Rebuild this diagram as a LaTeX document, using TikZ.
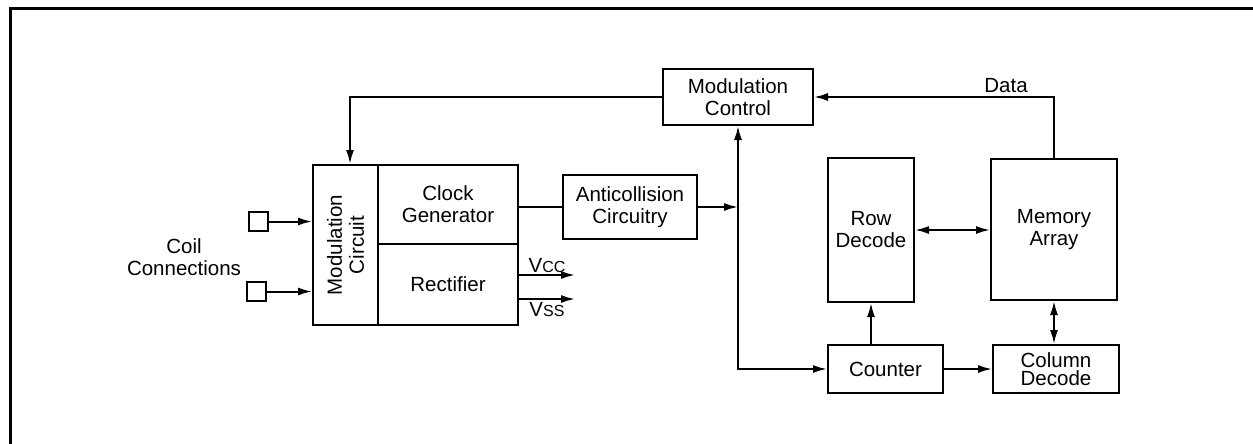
\documentclass[tikz,border=0pt]{standalone}
\usepackage{fontspec}
\setmainfont{Liberation Sans}
\usetikzlibrary{arrows.meta}

\begin{document}
\begin{tikzpicture}[x=1pt, y=-1pt, line width=2pt,
      >={Latex[length=14pt,width=8pt]},
      font=\fontsize{20.5}{22}\selectfont,
      block/.style = {draw, align=center, inner sep=0pt},
      pad/.style = {draw, minimum size=19pt, inner sep=0pt}]
  \useasboundingbox (0,0) rectangle (1253,444);
  \draw[line width=3pt] (10,450) |- (1260,9);
  % front end
  \node[block, minimum width=65pt, minimum height=160pt] (modc) at (345.5,245) {};
  \node[rotate=90, align=center] (modctext) at (modc) {Modulation\\Circuit};
  \node[block, minimum width=140pt, minimum height=79pt] (clk) at (448,204.5) {Clock\\Generator};
  \node[block, minimum width=140pt, minimum height=81pt] (rect) at (448,284.5) {Rectifier};
  \node[pad] (pad1) at (258.5,221.5) {};
  \node[pad] (pad2) at (256.5,291.5) {};
  \node[align=center] (coil) at (184,257) {Coil\\Connections};
  \node[block, minimum width=134pt, minimum height=64pt] (anti) at (630,207) {Anticollision\\Circuitry};
  \node[block, minimum width=150pt, minimum height=56pt] (mctl) at (738,97) {Modulation\\Control};
  % memory side
  \node[block, minimum width=86pt, minimum height=144pt] (row) at (871,230) {Row\\Decode};
  \node[block, minimum width=126pt, minimum height=141pt] (mem) at (1054,229.5) {Memory\\Array};
  \node[block, minimum width=115pt, minimum height=48pt] (cnt) at (885.5,369) {Counter};
  \node[block, minimum width=126pt, minimum height=48pt, font=\fontsize{20.5}{18}\selectfont] (col) at (1056,369) {Column\\Decode};
  \coordinate (vcc) at (575,275);
  \coordinate (vss) at (575,299);
  % connections
  \draw[->] (pad1.east) -- (pad1.east -| modc.west);
  \draw[->] (pad2.east) -- (pad2.east -| modc.west);
  \draw (clk.east |- anti.west) -- (anti.west);
  \draw[->] (anti.east) -- (anti.east -| mctl.south);
  \draw[<->] (mctl.south) |- (cnt.west);
  \draw[->] (mctl.west) -| ([xshift=4.5pt]modc.north);
  \draw[->] (mem.north) |- (mctl.east) node[pos=0.6, above] {Data};
  \draw[->] (rect.east |- vcc) -- (vcc) node[midway, above, inner sep=1pt] {V{\fontsize{16}{16}\selectfont CC}};
  \draw[->] (rect.east |- vss) -- (vss) node[midway, below, inner sep=2pt] {V{\fontsize{16}{16}\selectfont SS}};
  \draw[<->] (row.east) -- (row.east -| mem.west);
  \draw[->] (row.south |- cnt.north) -- (row.south);
  \draw[->] (cnt.east) -- (col.west);
  \draw[<->] (mem.south) -- (mem.south |- col.north);
\end{tikzpicture}
\end{document}
